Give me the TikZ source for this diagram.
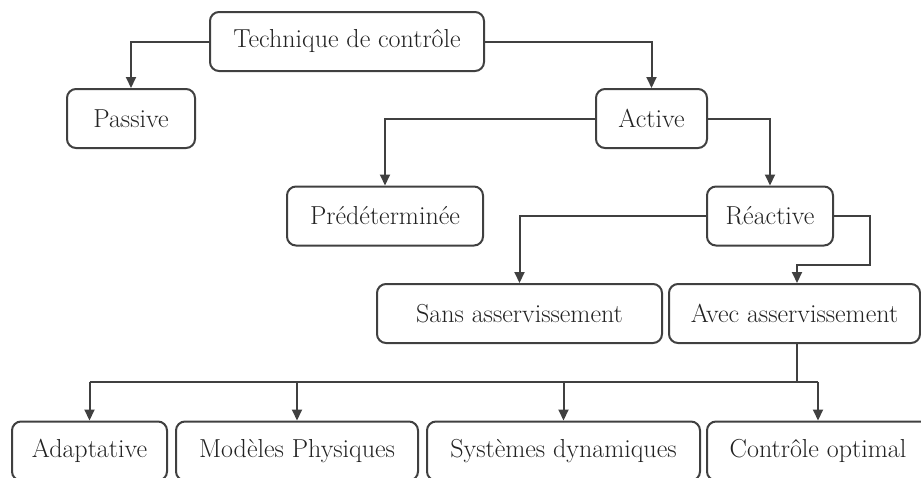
\documentclass[tikz,border=0pt]{standalone}
\usetikzlibrary{arrows.meta,calc}
\definecolor{ln}{HTML}{404040}
\definecolor{tx}{HTML}{222222}
\begin{document}
\begin{tikzpicture}[x=1pt,y=-1pt,
  box/.style={draw=ln,line width=2pt,rounded corners=9pt,inner sep=0pt,
    minimum height=59pt,text=tx,font=\fontsize{26}{31}\selectfont},
  conn/.style={draw=ln,line width=2pt},
  arr/.style={conn,-{Triangle[width=10pt,length=11pt]}}]
\useasboundingbox (0,0) rectangle (921,477);
\clip (0,0) rectangle (921,477);
\node[box,minimum width=274pt] (tech) at (347,41.5) {Technique de contr\^ole};
\node[box,minimum width=128pt] (pass) at (131,118.5) {Passive};
\node[box,minimum width=111pt] (act) at (651.5,118.5) {Active};
\node[box,minimum width=196pt] (pred) at (385,216) {Pr\'ed\'etermin\'ee};
\node[box,minimum width=126pt] (reac) at (770,216) {R\'eactive};
\node[box,minimum width=285pt] (sans) at (519.5,313.5) {Sans asservissement};
\node[box,minimum width=251pt] (avec) at (794.5,313.5) {Avec asservissement};
\node[box,minimum width=155pt] (adap) at (89.5,451) {Adaptative};
\node[box,minimum width=242pt] (mod) at (297,451) {Mod\`eles Physiques};
\node[box,minimum width=273pt] (sys) at (563.5,451) {Syst\`emes dynamiques};
\node[box,minimum width=222pt] (cont) at (818,451) {Contr\^ole optimal};
\coordinate (k1) at (870,265);
\coordinate (k2) at (797,265);
\coordinate (bus) at (797,382);
\draw[arr] (tech.west) -| (pass.north);
\draw[arr] (tech.east) -| (act.north);
\draw[arr] (act.west) -| (pred.north);
\draw[arr] (act.east) -| (reac.north);
\draw[arr] (reac.west) -| (sans.north);
\draw[arr] (reac.east) -| (k1) -- (k2) -- (k2 |- avec.north);
\draw[conn] (k2 |- avec.south) -- (bus);
\draw[conn] (adap.north |- bus) -- (cont.north |- bus);
\draw[arr] (adap.north |- bus) -- (adap.north);
\draw[arr] (mod.north |- bus) -- (mod.north);
\draw[arr] (sys.north |- bus) -- (sys.north);
\draw[arr] (cont.north |- bus) -- (cont.north);
\end{tikzpicture}
\end{document}
